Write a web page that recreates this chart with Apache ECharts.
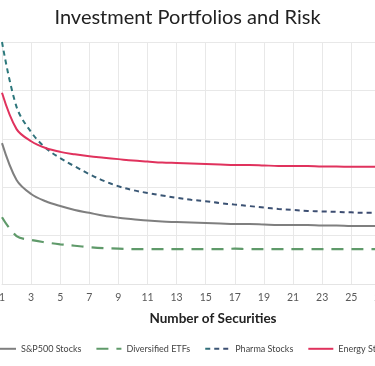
<!DOCTYPE html>
<html>
<head>
<meta charset="utf-8">
<script src="https://cdn.jsdelivr.net/npm/echarts@6/dist/echarts.min.js"></script>
<style>
html,body{margin:0;padding:0;background:#fff;}
#chart{width:375px;height:366px;}
</style>
</head>
<body>
<div id="chart"></div>
<script>
const categories = ['1','2','3','4','5','6','7','8','9','10','11','12','13','14','15','16','17','18','19','20','21','22','23','24','25','26','27','28','29','30'];
const sp500 = [2.91,2.15,1.86,1.71,1.61,1.53,1.47,1.41,1.37,1.34,1.31,1.29,1.28,1.27,1.26,1.25,1.24,1.24,1.23,1.22,1.22,1.22,1.21,1.21,1.20,1.20,1.20];
const etfs = [1.38,0.99,0.91,0.86,0.82,0.79,0.76,0.74,0.73,0.72,0.72,0.72,0.72,0.72,0.72,0.72,0.73,0.72,0.72,0.72,0.72,0.72,0.72,0.72,0.72,0.72,0.72];
const pharma = [5.0,3.66,3.14,2.81,2.60,2.43,2.27,2.13,2.02,1.94,1.88,1.83,1.78,1.74,1.71,1.67,1.64,1.61,1.58,1.55,1.53,1.51,1.50,1.49,1.48,1.47,1.47];
const energy = [3.95,3.20,2.95,2.81,2.73,2.68,2.64,2.61,2.58,2.55,2.53,2.51,2.50,2.49,2.48,2.47,2.46,2.46,2.45,2.44,2.44,2.44,2.43,2.43,2.42,2.42,2.42];

const chart = echarts.init(document.getElementById('chart'), null, {renderer:'canvas'});
const font = 'Lato, "Open Sans", sans-serif';
chart.setOption({
  animation: false,
  textStyle: {fontFamily: font},
  title: {
    text: 'Investment Portfolios and Risk',
    left: 'center', top: 3,
    textStyle: {fontFamily: font, fontSize: 20, fontWeight: 'normal', color: '#222'}
  },
  grid: {left: 2, right: -49, top: 42, bottom: 82, containLabel: false, outerBoundsMode: 'none'},
  legend: {
    left: 0, top: 344, width: 700,
    padding: [0, 0, 0, -10],
    itemWidth: 25, itemHeight: 12, itemGap: 14,
    itemStyle: {opacity: 0},
    textStyle: {fontFamily: font, fontSize: 9, color: '#444'},
    data: ['S&P500 Stocks','Diversified ETFs','Pharma Stocks','Energy Stocks']
  },
  xAxis: {
    type: 'category',
    data: categories,
    boundaryGap: false,
    name: 'Number of Securities',
    nameLocation: 'middle',
    nameGap: 28,
    nameTextStyle: {fontFamily: font, fontSize: 13.5, fontWeight: 'bold', color: '#222'},
    axisLine: {show: true, lineStyle: {color: '#e4e4e4', width: 1}},
    axisTick: {show: false},
    axisLabel: {interval: 1, color: '#595959', fontSize: 10.5, margin: 8, fontFamily: font},
    splitLine: {show: true, interval: 1, lineStyle: {color: '#e8e8e8', width: 1}}
  },
  yAxis: {
    type: 'value', min: 0, max: 5, interval: 1,
    axisLabel: {show: false},
    axisLine: {show: false}, axisTick: {show: false},
    splitLine: {show: true, lineStyle: {color: '#e8e8e8', width: 1}}
  },
  series: [
    {name: 'S&P500 Stocks', type: 'line', data: sp500, smooth: 0.35, symbol: 'none',
     lineStyle: {color: '#7f7f7f', width: 2}, itemStyle: {color: '#7f7f7f'}},
    {name: 'Diversified ETFs', type: 'line', data: etfs, smooth: 0.35, symbol: 'none',
     lineStyle: {color: '#5f9a6a', width: 2.2, type: [12, 8]}, itemStyle: {color: '#5f9a6a'}},
    {name: 'Pharma Stocks', type: 'line', data: pharma, smooth: 0.35, symbol: 'none',
     lineStyle: {width: 2, type: [5, 4],
       color: new echarts.graphic.LinearGradient(0, 0, 1, 0, [{offset: 0, color: '#2b7a7c'}, {offset: 0.35, color: '#3a5775'}, {offset: 1, color: '#3d4a70'}])},
     itemStyle: {color: '#4a5a82'}},
    {name: 'Energy Stocks', type: 'line', data: energy, smooth: 0.35, symbol: 'none',
     lineStyle: {color: '#e0325d', width: 2}, itemStyle: {color: '#c0404f'}}
  ]
});
</script>
</body>
</html>
